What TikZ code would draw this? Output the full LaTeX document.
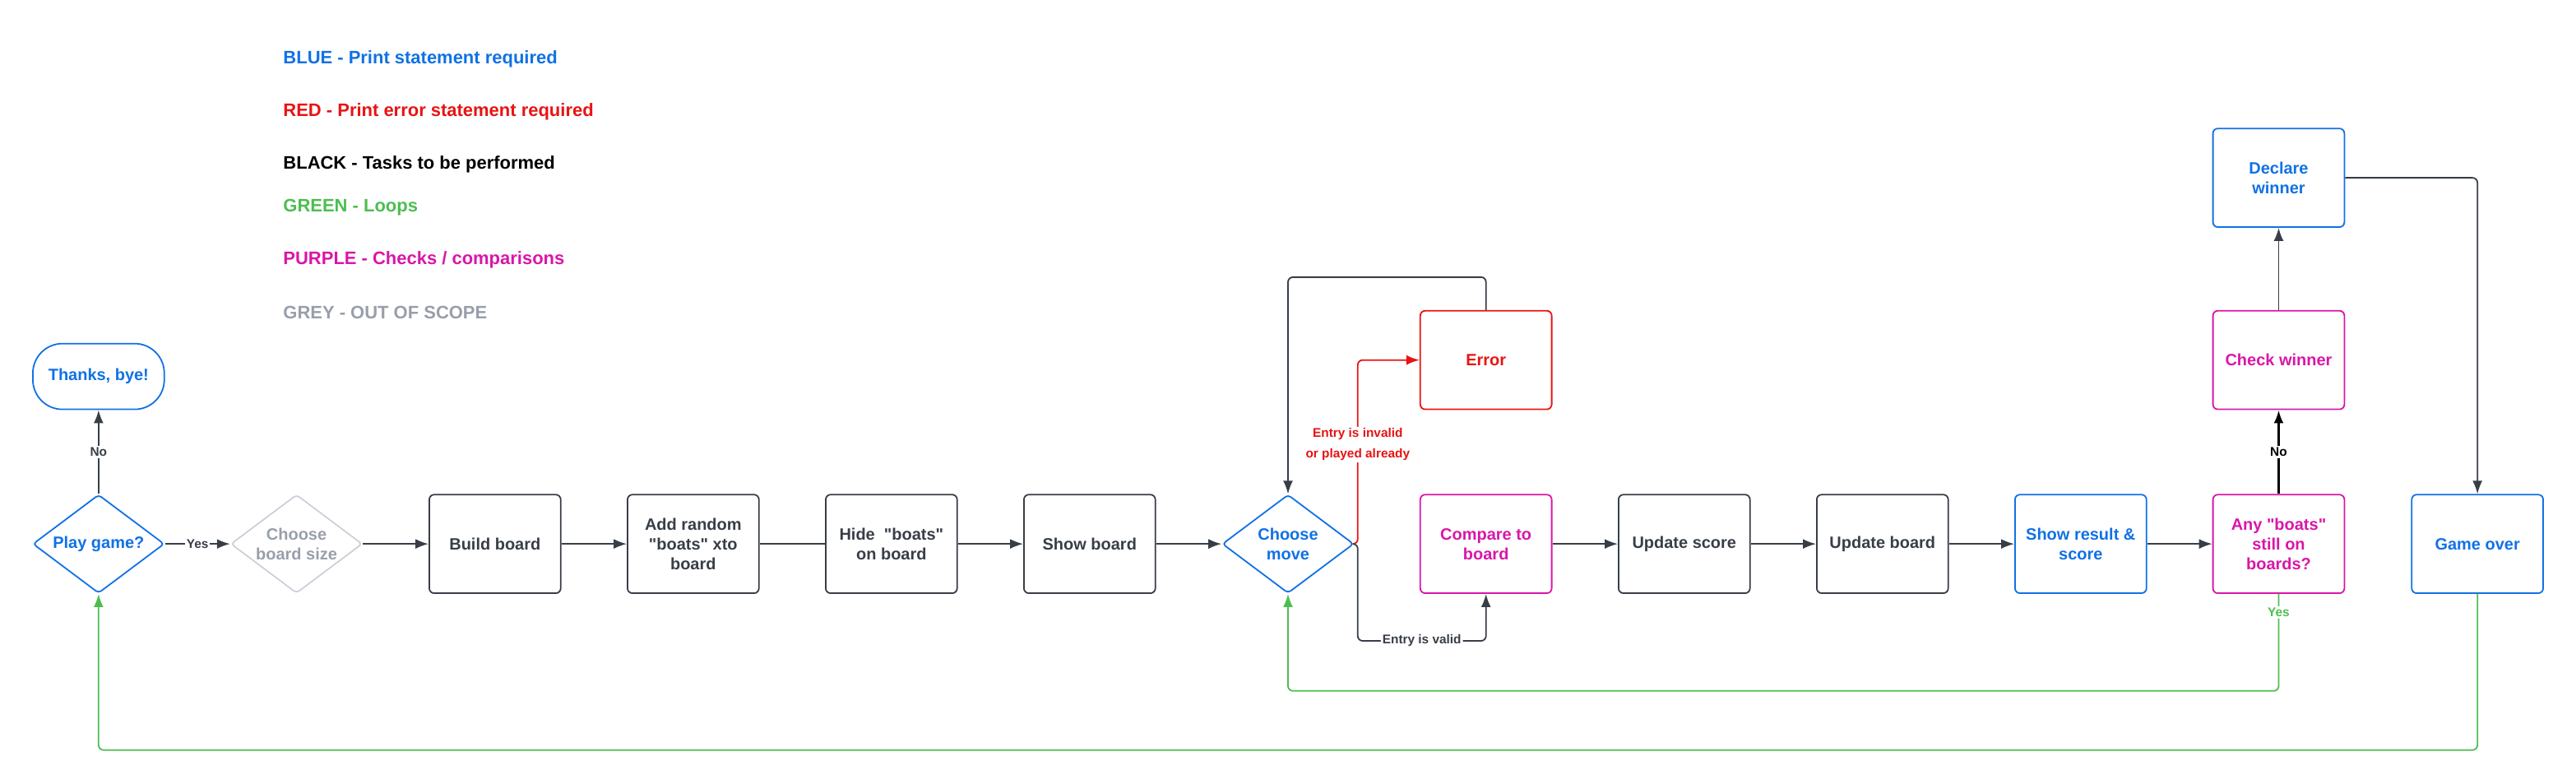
\documentclass[tikz,border=0pt]{standalone}
\usepackage{fontspec}
\setmainfont{Liberation Sans}
\usetikzlibrary{positioning,arrows.meta}
\usetikzlibrary{shapes.geometric}

\definecolor{printblue}{RGB}{16,113,229}
\definecolor{errorred}{RGB}{232,19,19}
\definecolor{loopgreen}{RGB}{76,190,80}
\definecolor{checkpurple}{RGB}{217,22,168}
\definecolor{scopegrey}{RGB}{152,158,170}
\definecolor{scopeline}{RGB}{204,208,216}
\definecolor{taskdark}{RGB}{56,62,71}

\newcommand{\boxfont}{\fontsize{10}{12}\selectfont\bfseries}
\newcommand{\legendfont}{\fontsize{11}{13}\selectfont\bfseries}
\newcommand{\linefont}{\fontsize{7.7}{12.5}\selectfont\bfseries}
\newcommand{\qt}{\textquotedbl}

\begin{document}
\begin{tikzpicture}[x=1pt,y=-1pt,>={Latex[length=8pt,width=6pt]},line width=0.9pt]

\tikzstyle{flowbox} = [rectangle, draw=taskdark, text=taskdark, rounded corners=3pt, minimum width=80pt, minimum height=60pt, inner sep=2pt, align=center, font=\boxfont]
\tikzstyle{printbox} = [flowbox, draw=printblue, text=printblue]
\tikzstyle{checkbox} = [flowbox, draw=checkpurple, text=checkpurple]
\tikzstyle{errorbox} = [flowbox, draw=errorred, text=errorred]
\tikzstyle{decision} = [diamond, draw=printblue, text=printblue, aspect=1.33, minimum width=80pt, minimum height=60pt, inner sep=0pt, rounded corners=2pt, align=center, font=\boxfont]
\tikzstyle{linetext} = [fill=white, inner sep=1pt, text=taskdark, align=center, font=\linefont]
\tikzstyle{blank} = [coordinate]

\useasboundingbox (0,0) rectangle (1568,477);

\foreach \y/\c/\t [count=\i] in {34/printblue/{BLUE - Print statement required}, 66/errorred/{RED - Print error statement required}, 98/black/{BLACK - Tasks to be performed}, 124/loopgreen/{GREEN - Loops}, 156/checkpurple/{PURPLE - Checks / comparisons}, 188/scopegrey/{GREY - OUT OF SCOPE}} {
    \node[anchor=west, inner sep=0pt, text=\c, font=\legendfont] at (172,\y+2) (legend\i) {\t};
}

\node[decision] at (60,331) (play) {Play game?};
\node[decision, draw=scopeline, text=scopegrey] at (180.5,331) (size) {Choose\\board size};
\foreach \x/\n/\t in {2/build/Build board, 3/addboats/{Add random\\\qt boats\qt{} xto\\board}, 4/hide/{Hide~ \qt boats\qt\\on board}, 5/show/Show board, 8/uscore/Update score, 9/uboard/Update board} {
    \node[flowbox] at (60+120.65*\x,331) (\n) {\t};
}
\node[decision] at (784,331) (move) {Choose\\move};
\node[checkbox] at (904.5,331) (compare) {Compare to\\board};
\node[printbox] at (1266.5,331) (result) {Show result \&\\score};
\node[checkbox] at (1387,331) (anyboats) {Any \qt boats\qt\\still on\\boards?};
\node[printbox] at (1508,331) (gameover) {Game over};

\node[printbox, minimum height=40pt, rounded corners=18pt, above=51pt of play] (thanks) {Thanks, bye!};
\node[errorbox, above=51pt of compare] (error) {Error};
\node[checkbox, above=51pt of anyboats] (checkwin) {Check winner};
\node[printbox, above=50pt of checkwin] (declare) {Declare\\winner};

\foreach \a/\b in {size/build, build/addboats, hide/show, show/move, compare/uscore, uscore/uboard, uboard/result, result/anyboats} {
    \draw[->, taskdark] (\a) -- (\b);
}
\draw[taskdark] (addboats) -- (hide);

\draw[->, taskdark] (play) -- node[linetext]{No} (thanks);
\draw[->, taskdark] (play) -- node[linetext]{Yes} (size);

\draw[->, errorred, rounded corners=3pt] (move.east) -- ++(2,0) |- (error.west) node[linetext, pos=0.27, text=errorred]{Entry is invalid\\or played already};
\draw[->, taskdark, rounded corners=3pt] (move.east) -- ++(2,0) -- ++(0,59) -| (compare.south) node[linetext, pos=0.25]{Entry is valid};
\draw[->, taskdark, rounded corners=3pt] (error.north) -- ++(0,-20) -| (move.north);

\draw[->, black, line width=1.4pt] (anyboats) -- node[linetext, text=black]{No} (checkwin);
\draw[->, taskdark] (checkwin) -- (declare);
\draw[->, taskdark, rounded corners=3pt] (declare.east) -| (gameover.north);

\draw[->, loopgreen, rounded corners=3pt] (anyboats.south) -- node[linetext, pos=0.19, text=loopgreen]{Yes} ++(0,59) -| (move.south);
\draw[->, loopgreen, rounded corners=3pt] (gameover.south) -- ++(0,95) -| (play.south);

\end{tikzpicture}
\end{document}
